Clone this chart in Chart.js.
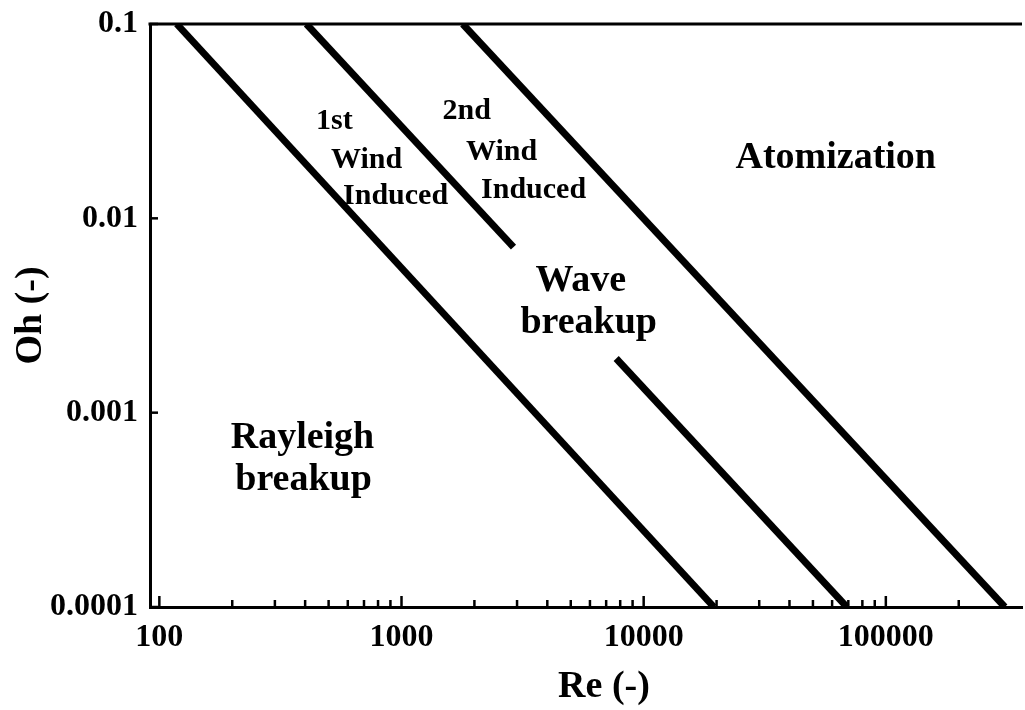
<!DOCTYPE html>
<html>
<head>
<meta charset="utf-8">
<script src="https://cdn.jsdelivr.net/npm/chart.js@4/dist/chart.umd.min.js"></script>
<style>
    html, body { margin: 0; background: #fff; }
    #wrap { width: 1025px; height: 710px; }
</style>
</head>
<body>
<div id="wrap"><canvas id="regimes"></canvas></div>
<script>
// Régimes de rupture d'un jet liquide : Oh en fonction de Re (log-log)
const reTicks = [100, 1000, 10000, 100000];
const ohTicks = [0.0001, 0.001, 0.01, 0.1];

// Limites entre régimes (extrémités)
const rayleighRe = [118, 19500];
const rayleighOh = [0.1, 0.0001];
const wind1Re = [405, 2900];
const wind1Oh = [0.1, 0.0071];
const atomRe = [1790, 310000];
const atomOh = [0.1, 0.0001];
const waveRe = [7700, 69000];
const waveOh = [0.0019, 0.0001];

// Libellés des régimes "wind induced" (petits)
const windText = ['1st', 'Wind', 'Induced', '2nd', 'Wind', 'Induced'];
const windRe = [528, 717, 945, 1860, 2590, 3510];
const windOh = [0.0317, 0.02, 0.013, 0.0356, 0.0219, 0.014];

// Libellés des autres régimes (grands)
const regimeText = ['Wave', 'breakup', 'Rayleigh', 'breakup', 'Atomization'];
const regimeRe = [5500, 5930, 390, 394, 62100];
const regimeOh = [0.00475, 0.00289, 0.00074, 0.00045, 0.0204];

const SERIF = '"Liberation Serif", "Times New Roman", serif';

function toPoints(xs, ys) {
    return xs.map((x, i) => ({ x: x, y: ys[i] }));
}

function boundary(xs, ys) {
    return {
        data: toPoints(xs, ys),
        showLine: true,
        borderColor: '#000',
        borderWidth: 7,
        borderCapStyle: 'butt',
        pointRadius: 0,
        fill: false
    };
}

// Cadre supérieur, graduations intérieures, titre de l'axe x et libellés des régions
const decorPlugin = {
    id: 'decor',
    afterDatasetsDraw(chart) {
        const ctx = chart.ctx;
        const area = chart.chartArea;
        const xs = chart.scales.x;
        const ys = chart.scales.y;
        ctx.save();
        ctx.strokeStyle = '#000';
        ctx.lineWidth = 3;
        ctx.beginPath();
        ctx.moveTo(area.left - 1.5, area.top);
        ctx.lineTo(area.right, area.top);
        ctx.stroke();

        ctx.lineWidth = 2.5;
        xs.ticks.forEach(t => {
            const px = xs.getPixelForValue(t.value);
            const len = t.major ? 11 : 7;
            ctx.beginPath();
            ctx.moveTo(px, area.bottom);
            ctx.lineTo(px, area.bottom - len);
            ctx.stroke();
        });
        ohTicks.forEach(v => {
            const py = ys.getPixelForValue(v);
            ctx.beginPath();
            ctx.moveTo(area.left, py);
            ctx.lineTo(area.left + 8, py);
            ctx.stroke();
        });

        ctx.fillStyle = '#000';
        ctx.textAlign = 'center';
        ctx.textBaseline = 'middle';
        ctx.font = 'bold 38px ' + SERIF;
        ctx.fillText('Re (-)', (area.left + area.right) / 2 + 18, 687);

        ctx.font = 'bold 30px ' + SERIF;
        windText.forEach((s, i) => {
            ctx.fillText(s, xs.getPixelForValue(windRe[i]), ys.getPixelForValue(windOh[i]));
        });
        ctx.font = 'bold 38px ' + SERIF;
        regimeText.forEach((s, i) => {
            ctx.fillText(s, xs.getPixelForValue(regimeRe[i]), ys.getPixelForValue(regimeOh[i]));
        });
        ctx.restore();
    }
};

new Chart(document.getElementById('regimes'), {
    type: 'scatter',
    data: {
        datasets: [
            boundary(rayleighRe, rayleighOh),
            boundary(wind1Re, wind1Oh),
            boundary(atomRe, atomOh),
            boundary(waveRe, waveOh)
        ]
    },
    options: {
        responsive: true,
        maintainAspectRatio: false,
        animation: false,
        devicePixelRatio: 1,
        layout: { padding: { top: 24, right: 3, left: 0, bottom: 0 } },
        plugins: {
            legend: { display: false },
            tooltip: { enabled: false }
        },
        scales: {
            x: {
                type: 'logarithmic',
                min: 91.5,
                max: 365000,
                afterBuildTicks(scale) {
                    const ticks = [];
                    for (let e = 2; e <= 5; e++) {
                        for (let m = 1; m <= 9; m++) {
                            const v = m * Math.pow(10, e);
                            if (v >= scale.min && v <= scale.max) {
                                ticks.push({ value: v, major: m === 1 });
                            }
                        }
                    }
                    scale.ticks = ticks;
                },
                afterFit(scale) {
                    scale.height = 103;
                    scale.paddingLeft = 0;
                    scale.paddingRight = 0;
                },
                grid: { display: true, drawOnChartArea: false, drawTicks: false },
                border: { display: true, color: '#000', width: 3 },
                ticks: {
                    autoSkip: false,
                    maxRotation: 0,
                    padding: 12,
                    color: '#000',
                    font: { family: SERIF, size: 32, weight: 'bold' },
                    callback: v => reTicks.includes(v) ? String(v) : ''
                },
                title: { display: false }
            },
            y: {
                type: 'logarithmic',
                min: 0.0001,
                max: 0.1,
                afterBuildTicks(scale) {
                    scale.ticks = ohTicks.map(v => ({ value: v, major: true }));
                },
                afterFit(scale) {
                    scale.width = 150;
                    scale.paddingTop = 0;
                    scale.paddingBottom = 0;
                },
                grid: { display: true, drawOnChartArea: false, drawTicks: false },
                border: { display: true, color: '#000', width: 3 },
                ticks: {
                    autoSkip: false,
                    padding: 12,
                    color: '#000',
                    font: { family: SERIF, size: 32, weight: 'bold' },
                    callback: v => ohTicks.includes(v) ? String(v) : ''
                },
                title: {
                    display: true,
                    text: 'Oh (-)',
                    color: '#000',
                    padding: { top: 8, bottom: 0 },
                    font: { family: SERIF, size: 38, weight: 'bold' }
                }
            }
        }
    },
    plugins: [decorPlugin]
});
</script>
</body>
</html>
